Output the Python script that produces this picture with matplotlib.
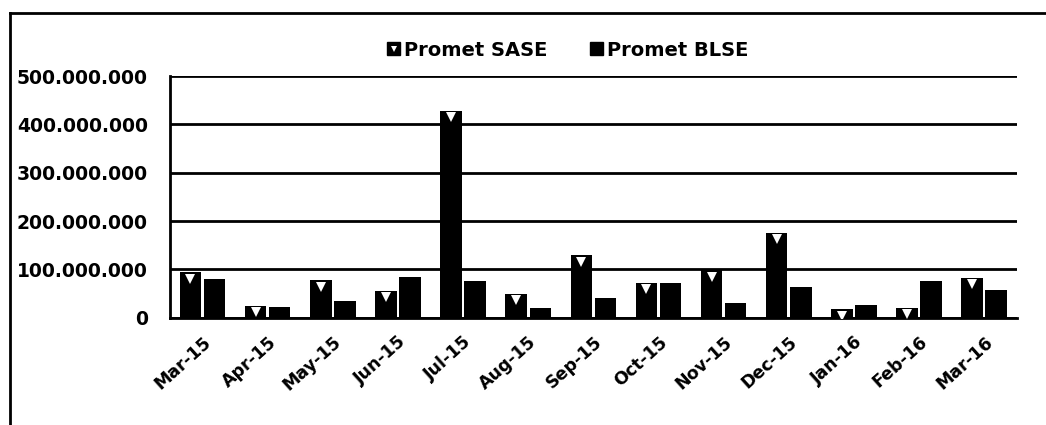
import matplotlib.pyplot as plt
import matplotlib.transforms as mtransforms
from matplotlib.patches import Patch
from matplotlib.lines import Line2D
from matplotlib.legend_handler import HandlerTuple
from matplotlib.ticker import FuncFormatter
import numpy as np

# monthly turnover values
months = ['Mar-15', 'Apr-15', 'May-15', 'Jun-15', 'Jul-15', 'Aug-15', 'Sep-15',
          'Oct-15', 'Nov-15', 'Dec-15', 'Jan-16', 'Feb-16', 'Mar-16']
promet_sase = [94e6, 25e6, 77e6, 55e6, 428e6, 50e6, 129e6,
               72e6, 98e6, 176e6, 17e6, 21e6, 82e6]
promet_blse = [80e6, 22e6, 34e6, 85e6, 75e6, 21e6, 41e6,
               71e6, 30e6, 63e6, 26e6, 76e6, 57e6]
y_ticks = [0, 100e6, 200e6, 300e6, 400e6, 500e6]

fig = plt.figure(figsize=(10.46, 4.25), dpi=100)
ax = fig.add_axes([0.1625, 0.2525, 0.8095, 0.5685])

x = np.arange(len(months))
w = 0.33
sase_bars = ax.bar(x - w / 2 - 0.02, promet_sase, w, color='black', zorder=3)
blse_bars = ax.bar(x + w / 2 + 0.02, promet_blse, w, color='black', zorder=3)

# white notch near the top of each SASE bar, clipped to the bar itself
shift = mtransforms.ScaledTranslation(0, -4.5 / 72, fig.dpi_scale_trans)
for bar, v in zip(sase_bars, promet_sase):
    m, = ax.plot(bar.get_x() + bar.get_width() / 2, v, marker='v', ms=7,
                 markeredgewidth=0, color='white', zorder=4, linestyle='none',
                 transform=ax.transData + shift)
    m.set_clip_path(bar)

ax.set_ylim(0, 500e6)
ax.set_xlim(-0.5, len(months) - 0.5)
ax.set_yticks(y_ticks)
ax.yaxis.set_major_formatter(FuncFormatter(lambda v, p: '0' if v == 0 else f'{int(v):,}'.replace(',', '.')))
ax.grid(axis='y', color='black', linewidth=2, zorder=0)
ax.set_xticks(x)
ax.set_xticklabels(months, rotation=42, ha='right', rotation_mode='anchor')
ax.tick_params(axis='x', length=0, labelsize=12.5, pad=11)
ax.tick_params(axis='y', length=0, labelsize=13.5, pad=16)
for lbl in ax.get_xticklabels() + ax.get_yticklabels():
    lbl.set_fontweight('bold')
for s in ['top', 'right']:
    ax.spines[s].set_visible(False)
ax.spines['left'].set_linewidth(2)
ax.spines['bottom'].set_linewidth(2)

# legend
sase_handle = (Patch(color='black'),
               Line2D([], [], marker='v', color='white', ms=5, markeredgewidth=0, linestyle='none'))
blse_handle = Patch(color='black')
fig.legend([sase_handle, blse_handle], ['Promet SASE', 'Promet BLSE'],
           handler_map={tuple: HandlerTuple(ndivide=1)},
           loc='center', bbox_to_anchor=(568 / 1046, 1 - 50 / 425), ncol=2,
           frameon=False, handlelength=0.67, handleheight=0.67, handletextpad=0.2,
           columnspacing=2.2, prop={'weight': 'bold', 'size': 14})

# outer frame from the scanned page
fig.add_artist(Line2D([10 / 1046, 10 / 1046], [0, 1 - 13 / 425], color='black', lw=2))
fig.add_artist(Line2D([10 / 1046, 1], [1 - 13 / 425, 1 - 13 / 425], color='black', lw=2))

fig.savefig('out.png', dpi=100)
